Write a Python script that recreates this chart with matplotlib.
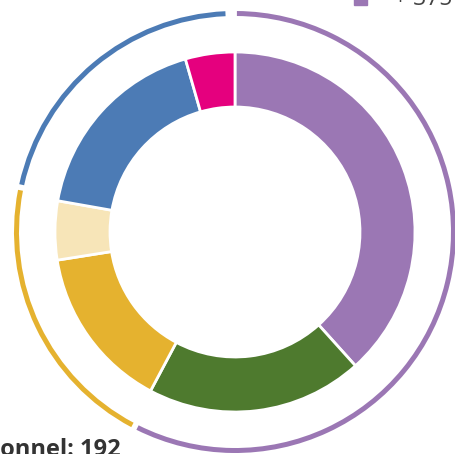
import matplotlib.pyplot as plt

plt.rcParams['font.family'] = ['Open Sans', 'DejaVu Sans']

# inner ring (degrees of the circle, clockwise from top)
inner_names = ["Purple", "Green", "Yellow", "Beige", "Blue", "Pink"]
inner_values = [138, 70, 53, 19, 64, 16]
inner_colors = ["#9b77b4", "#4e7a2e", "#e5b22f", "#f7e5b8", "#4c7bb5", "#e5007e"]

# outer ring groups, each followed by the small empty gap seen in the picture
outer_names = ["Purple group", "Yellow group", "Blue group"]
outer_values = [206, 73, 75]
outer_gaps = [1.5, 1.5, 3]
outer_colors = ["#9b77b4", "#e5b22f", "#4c7bb5"]

legend_label = "+ 375"
bottom_label = "Personnel: 192"

fig = plt.figure(figsize=(4.56, 4.54), dpi=100)
ax = fig.add_axes([0, 0, 1, 1])

cx, cy = 235, 454 - 232

ax.pie(inner_values, colors=inner_colors, startangle=90, counterclock=False,
       radius=180, center=(cx, cy), frame=True,
       wedgeprops=dict(width=55, edgecolor='white', linewidth=2))

ring_vals, ring_cols = [], []
for v, g, c in zip(outer_values, outer_gaps, outer_colors):
    ring_vals += [v, g]
    ring_cols += [c, 'none']
ax.pie(ring_vals, colors=ring_cols, startangle=89.5, counterclock=False,
       radius=221, center=(cx, cy), frame=True,
       wedgeprops=dict(width=5, linewidth=0))

ax.set_xlim(0, 456)
ax.set_ylim(0, 454)
ax.set_aspect('equal')
ax.axis('off')

# legend fragment at the top right
ax.add_patch(plt.Rectangle((354, 449), 13, 8, color="#9b77b4", clip_on=False))
ax.text(394, 449, legend_label, fontsize=16.5, color="#444444", va='baseline', ha='left')

# label at the bottom left
ax.text(121, -2, bottom_label, fontsize=17, fontweight='bold', color="#333333",
        va='baseline', ha='right')

fig.savefig("out.png", dpi=100)
